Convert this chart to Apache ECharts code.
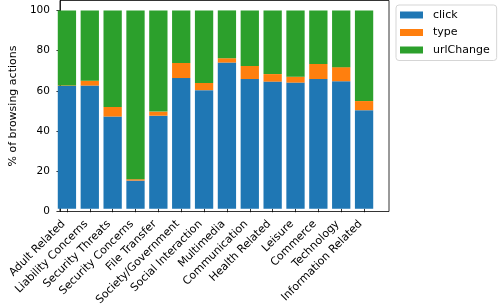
<!DOCTYPE html>
<html>
<head>
<meta charset="utf-8">
<script src="https://cdn.jsdelivr.net/npm/echarts@6/dist/echarts.min.js"></script>
<style>html,body{margin:0;padding:0;background:#fff}#c{width:498px;height:308px}</style>
</head>
<body>
<div id="c"></div>
<script>
const categories = ["Adult Related","Liability Concerns","Security Threats","Security Concerns","File Transfer","Society/Government","Social Interaction","Multimedia","Communication","Health Related","Leisure","Commerce","Technology","Information Related"];
const clickVals = [61.9, 62.1, 46.5, 14.2, 46.9, 65.9, 59.8, 73.7, 65.4, 64.1, 63.6, 65.4, 64.3, 49.7];
const typeVals  = [0.3, 2.5, 4.8, 0.7, 2.1, 7.6, 3.6, 2.2, 6.6, 3.8, 3.0, 7.6, 7.1, 4.6];
const urlVals = clickVals.map((c, i) => +(100 - c - typeVals[i]).toFixed(1));
const yTicks = [0, 20, 40, 60, 80, 100];

const FONT = 'DejaVu Sans';
const chart = echarts.init(document.getElementById('c'), null, {renderer: 'canvas'});
const mk = (name, data, color) => ({
  name, type: 'bar', stack: 'all', data, xAxisIndex: 1, yAxisIndex: 1,
  barWidth: 18.3, itemStyle: {color}, emphasis: {disabled: true}
});
chart.setOption({
  animation: false,
  textStyle: {fontFamily: FONT},
  grid: [
    {left: 42, right: 109, top: 0.5, bottom: 96.5, show: true, borderColor: '#000', borderWidth: 0.8, backgroundColor: 'transparent'},
    {left: 55.5, right: 122.5, top: 0.5, bottom: 96.5}
  ],
  legend: {
    orient: 'vertical', left: 396, top: 5,
    data: ['click', 'type', 'urlChange'],
    itemWidth: 23, itemHeight: 7, itemGap: 4.5,
    padding: [3.5, 7, 4, 4],
    borderColor: '#d5d5d5', borderWidth: 1, borderRadius: 3,
    backgroundColor: '#fff',
    icon: 'rect',
    textStyle: {fontFamily: FONT, fontSize: 11, color: '#000', padding: [0, 0, 0, 5], lineHeight: 13}
  },
  xAxis: [
    {type: 'value', gridIndex: 0, min: 0, max: 1, show: false},
    {type: 'category', gridIndex: 1, data: categories,
     axisLine: {show: false},
     axisTick: {show: true, alignWithLabel: true, length: 3.5, lineStyle: {color: '#000', width: 0.8}},
     axisLabel: {rotate: 45, interval: 0, fontFamily: FONT, fontSize: 11, color: '#000', margin: 10, padding: [0, 5, 0, 0]}}
  ],
  yAxis: [
    {type: 'value', gridIndex: 0, min: 0, max: 105,
     name: '% of browsing actions', nameLocation: 'middle', nameGap: 28,
     nameTextStyle: {fontFamily: FONT, fontSize: 11, color: '#000'},
     axisLine: {show: true, lineStyle: {color: '#000', width: 0.8}},
     axisTick: {show: true, length: 3.5, customValues: yTicks, lineStyle: {color: '#000', width: 0.8}},
     axisLabel: {customValues: yTicks, fontFamily: FONT, fontSize: 10.5, color: '#000', margin: 10},
     splitLine: {show: false}},
    {type: 'value', gridIndex: 1, min: 0, max: 105, show: false}
  ],
  series: [
    mk('click', clickVals, '#1f77b4'),
    mk('type', typeVals, '#ff7f0e'),
    mk('urlChange', urlVals, '#2ca02c')
  ]
});
</script>
</body>
</html>
